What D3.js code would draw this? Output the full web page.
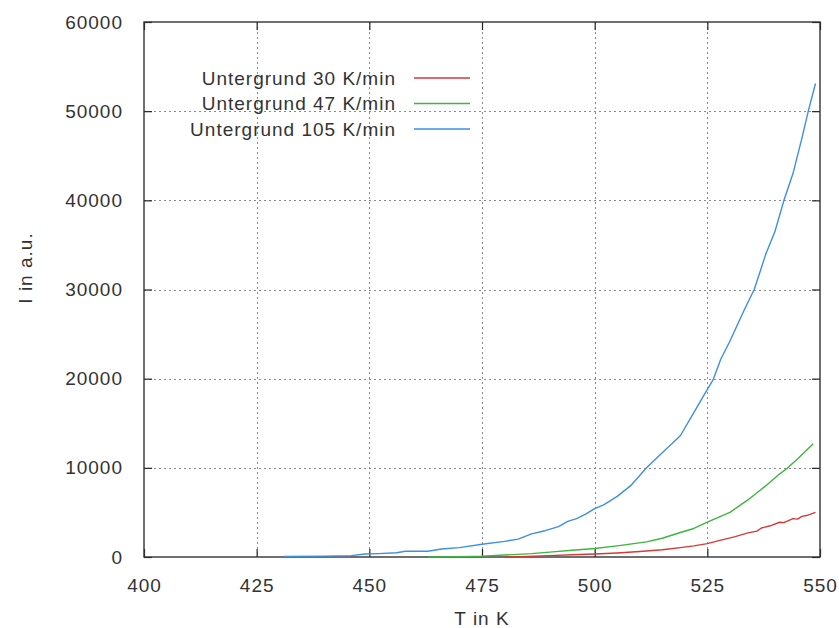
<!DOCTYPE html>
<html>
<head>
<meta charset="utf-8">
<script src="https://cdn.jsdelivr.net/npm/d3@7/dist/d3.min.js"></script>
<style>
  html, body { margin: 0; padding: 0; background: #fff; }
  svg { display: block; }
  text { font-family: "Liberation Sans", Arial, sans-serif; fill: #333; }
</style>
</head>
<body>
<svg id="chart" width="839" height="628"></svg>
<script>
// Background intensity vs. temperature for three heating rates
const xTicks = [400, 425, 450, 475, 500, 525, 550];
const yTicks = [0, 10000, 20000, 30000, 40000, 50000, 60000];

const seriesNames = ["Untergrund 30 K/min", "Untergrund 47 K/min", "Untergrund 105 K/min"];
const seriesColors = ["#d23a3a", "#3cb63c", "#3d8fe0"];

const tempRed = [480, 485, 490, 495, 500, 505, 510, 515, 519, 522, 525, 528, 531, 534, 536, 537, 539, 541, 542, 544, 545, 546, 547, 549];
const valRed  = [0, 60, 150, 250, 330, 450, 620, 820, 1050, 1250, 1500, 1900, 2250, 2700, 2900, 3250, 3500, 3900, 3850, 4300, 4250, 4550, 4650, 5000];

const tempGreen = [463, 470, 475, 480, 486, 490, 495, 500, 505, 511.5, 515, 519, 522, 525, 530, 534, 538, 541, 542.6, 545, 548.5];
const valGreen  = [0, 40, 100, 220, 380, 550, 750, 950, 1250, 1700, 2100, 2750, 3200, 3900, 5000, 6400, 8000, 9300, 9900, 11000, 12700];

const tempBlue = [431, 440, 446, 449, 452, 456, 458, 463, 466, 470, 475, 480, 483, 486, 489, 492, 494, 496, 498, 500, 502, 505, 508, 511.5, 515, 519, 522, 525, 526.3, 528, 530, 533, 535.4, 538, 540, 542, 544, 546, 547.4, 549];
const valBlue  = [60, 100, 150, 330, 380, 480, 640, 650, 900, 1050, 1430, 1750, 2000, 2600, 2950, 3400, 4000, 4300, 4800, 5430, 5850, 6800, 8000, 10000, 11700, 13600, 16200, 18800, 19900, 22200, 24200, 27500, 30000, 34000, 36500, 40000, 43000, 47000, 50000, 53100];

const series = [
  { name: seriesNames[0], color: seriesColors[0], t: tempRed, v: valRed },
  { name: seriesNames[1], color: seriesColors[1], t: tempGreen, v: valGreen },
  { name: seriesNames[2], color: seriesColors[2], t: tempBlue, v: valBlue }
];

const svg = d3.select("#chart");
const plotLeft = 144, plotRight = 820, plotTop = 22, plotBottom = 557;

const x = d3.scaleLinear().domain([400, 550]).range([plotLeft, plotRight]);
const y = d3.scaleLinear().domain([0, 60000]).range([plotBottom, plotTop]);

// Dotted grid
const grid = svg.append("g").attr("stroke", "#8a8a8a").attr("stroke-width", 1).attr("stroke-dasharray", "2,3");
grid.selectAll("line.gx").data(xTicks.slice(1, -1)).enter().append("line")
  .attr("x1", d => Math.round(x(d)) + 0.5).attr("x2", d => Math.round(x(d)) + 0.5)
  .attr("y1", plotTop).attr("y2", plotBottom);
grid.selectAll("line.gy").data(yTicks.slice(1, -1)).enter().append("line")
  .attr("y1", d => Math.round(y(d)) + 0.5).attr("y2", d => Math.round(y(d)) + 0.5)
  .attr("x1", plotLeft).attr("x2", plotRight);

// Axes with inward ticks on all four sides
const fontSize = 19, spacing = 1;
function styleAxis(g, withLabels) {
  g.select(".domain").remove();
  g.selectAll(".tick line").attr("stroke", "#222").attr("stroke-width", 1.2);
  g.selectAll(".tick text")
    .attr("font-size", fontSize)
    .attr("letter-spacing", spacing)
    .attr("fill", "#333")
    .style("display", withLabels ? null : "none");
}

svg.append("g").attr("transform", `translate(0,${plotBottom})`)
  .call(d3.axisBottom(x).tickValues(xTicks).tickSize(-8).tickPadding(22).tickFormat(d3.format("d")))
  .call(g => styleAxis(g, true));
svg.append("g").attr("transform", `translate(0,${plotTop})`)
  .call(d3.axisTop(x).tickValues(xTicks).tickSize(-8).tickFormat(""))
  .call(g => styleAxis(g, false));
svg.append("g").attr("transform", `translate(${plotLeft},0)`)
  .call(d3.axisLeft(y).tickValues(yTicks).tickSize(-8).tickPadding(21).tickFormat(d3.format("d")))
  .call(g => styleAxis(g, true));
svg.append("g").attr("transform", `translate(${plotRight},0)`)
  .call(d3.axisRight(y).tickValues(yTicks).tickSize(-8).tickFormat(""))
  .call(g => styleAxis(g, false));

// Plot frame
svg.append("rect")
  .attr("x", plotLeft).attr("y", plotTop)
  .attr("width", plotRight - plotLeft).attr("height", plotBottom - plotTop)
  .attr("fill", "none").attr("stroke", "#333").attr("stroke-width", 1.4);

// Curves
const line = d3.line().x(d => x(d[0])).y(d => y(d[1]));
svg.append("g").selectAll("path").data(series).enter().append("path")
  .attr("d", s => line(s.t.map((t, i) => [t, s.v[i]])))
  .attr("fill", "none")
  .attr("stroke", s => s.color)
  .attr("stroke-width", 1.4)
  .attr("stroke-linejoin", "round");

// Legend
const legend = svg.append("g");
series.forEach((s, i) => {
  const ly = 78 + i * 25.5;
  legend.append("text")
    .attr("x", 396).attr("y", ly).attr("dy", "0.35em")
    .attr("text-anchor", "end")
    .attr("font-size", fontSize).attr("letter-spacing", spacing)
    .text(s.name);
  legend.append("line")
    .attr("x1", 414).attr("x2", 470)
    .attr("y1", ly).attr("y2", ly)
    .attr("stroke", s.color).attr("stroke-width", 1.4);
});

// Axis titles
svg.append("text")
  .attr("x", 482).attr("y", 625)
  .attr("text-anchor", "middle")
  .attr("font-size", fontSize).attr("letter-spacing", spacing)
  .text("T in K");
svg.append("text")
  .attr("transform", "translate(32,268) rotate(-90)")
  .attr("text-anchor", "middle")
  .attr("font-size", fontSize).attr("letter-spacing", spacing)
  .text("I in a.u.");
</script>
</body>
</html>
